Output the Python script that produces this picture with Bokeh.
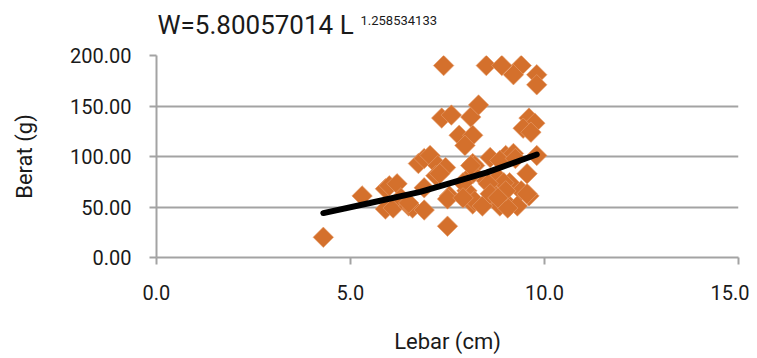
import math
from bokeh.plotting import figure
from bokeh.layouts import column
from bokeh.models import Label, FixedTicker, NumeralTickFormatter, Range1d
from bokeh.embed import file_html
from bokeh.resources import INLINE

# Scatter data: Lebar (cm) vs Berat (g)
lebar = [4.3, 5.3, 5.9, 6.0, 6.2, 5.9, 6.1, 6.3, 6.5, 6.6, 6.9, 6.9, 6.75, 6.9, 7.05,
         7.25, 7.45, 7.2, 7.55, 7.5, 8.15, 8.0, 7.5, 8.15, 8.2, 8.6, 9.0, 9.2, 9.8, 9.55,
         9.6, 9.1, 8.85, 8.7, 8.85, 9.1, 8.2, 8.5, 8.15, 9.4, 9.3, 8.4, 8.1, 7.9, 7.9,
         8.85, 9.25, 8.8, 8.95, 8.55, 8.6, 9.05, 9.55, 9.0, 8.8, 6.5, 7.3,
         7.4, 8.5, 8.9, 9.4, 9.2, 9.8, 9.8,
         7.35, 7.6, 8.1, 8.3, 7.8, 8.15, 7.95, 9.6, 9.75, 9.45, 9.65]
berat = [20, 61, 68, 71, 73, 48, 49, 59, 51, 49, 47, 69, 93, 98, 101,
         91, 89, 81, 61, 31, 93, 66, 58, 53, 91, 99, 101, 103, 101, 83,
         61, 74, 66, 58, 51, 51, 56, 76, 83, 66, 51, 51, 91, 74, 59,
         96, 98, 79, 74, 73, 63, 49, 63, 66, 59, 54, 83,
         190, 190, 190, 190, 181, 181, 171,
         138, 141, 139, 151, 121, 121, 111, 138, 133, 128, 124]

# Power trend line
trend_x = [4.3, 5.5, 6.8, 8.5, 9.8]
trend_y = [44, 54, 65, 84, 102]

x_ticks = [0, 5, 10, 15]
y_ticks = [0, 50, 100, 150, 200]

title_main = "W=5.80057014 L"
title_exp = "1.258534133"

FONT = "Roboto"
TXT = "#1a1a1a"
GRAY = "#a3a3a3"
LEFT, RIGHT, FW = 156, 11, 582
TH = 43

# Title strip: frame aligned with the chart frame, coordinates in page pixels
t = figure(frame_width=FW, frame_height=TH, output_backend="svg", toolbar_location=None,
           title=None, x_range=Range1d(LEFT, LEFT + FW), y_range=Range1d(TH, 0),
           x_axis_type=None, y_axis_type=None,
           min_border_left=LEFT, min_border_right=RIGHT,
           min_border_top=0, min_border_bottom=0)
t.outline_line_color = None
t.grid.visible = False
t.add_layout(Label(x=157, y=24.5, text=title_main, text_font=FONT, text_align="left",
                   text_font_size="26px", text_color=TXT, text_baseline="middle"))
t.add_layout(Label(x=360, y=19.5, text=title_exp, text_font=FONT, text_align="left",
                   text_font_size="13px", text_color=TXT, text_baseline="middle"))

p = figure(frame_width=FW, frame_height=202, output_backend="svg", toolbar_location=None,
           x_range=Range1d(0, 15), y_range=Range1d(0, 200),
           min_border_left=LEFT, min_border_right=RIGHT, min_border_top=55 - TH,
           min_border_bottom=100)
p.outline_line_color = None
p.background_fill_color = "white"

p.xgrid.grid_line_color = None
p.ygrid.grid_line_color = GRAY
p.ygrid.grid_line_width = 2

for ax in (p.xaxis[0], p.yaxis[0]):
    ax.axis_line_color = GRAY
    ax.axis_line_width = 2
    ax.major_tick_line_color = GRAY
    ax.major_tick_line_width = 2
    ax.major_tick_out = 7
    ax.major_tick_in = 0
    ax.minor_tick_line_color = None
    ax.major_label_text_font = FONT
    ax.major_label_text_font_size = "20px"
    ax.major_label_text_color = TXT
    ax.axis_label_text_font = FONT
    ax.axis_label_text_font_size = "22px"
    ax.axis_label_text_font_style = "normal"
    ax.axis_label_text_color = TXT

p.xaxis.ticker = FixedTicker(ticks=x_ticks)
p.yaxis.ticker = FixedTicker(ticks=y_ticks)
p.xaxis.formatter = NumeralTickFormatter(format="0.0")
p.yaxis.formatter = NumeralTickFormatter(format="0.00")
p.xaxis.axis_label = "Lebar (cm)"
p.yaxis.axis_label = "Berat (g)"
p.xaxis.major_label_standoff = 20
p.yaxis.major_label_standoff = 18
p.xaxis.axis_label_standoff = 26
p.yaxis.axis_label_standoff = 30

p.scatter(lebar, berat, marker="square", size=14.5, angle=math.pi / 4,
          fill_color="#d4702c", line_color="#e8a06e", line_width=0.6)

p.line(trend_x, trend_y, line_color="black", line_width=6, line_cap="round")

open("out.html", "w").write(file_html(column(t, p, spacing=0), INLINE))
